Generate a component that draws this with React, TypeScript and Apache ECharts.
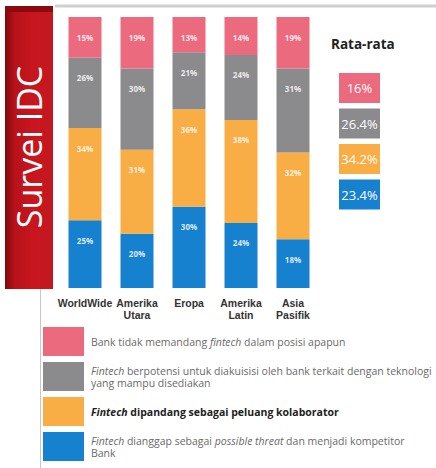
import React, { useEffect, useRef } from "react";
import * as echarts from "echarts";

const categories = ["WorldWide", "Amerika\nUtara", "Eropa", "Amerika\nLatin", "Asia\nPasifik"];
const threatValues = [25, 20, 30, 24, 18];
const collabValues = [34, 31, 36, 38, 32];
const acquireValues = [26, 30, 21, 24, 31];
const noneValues = [15, 19, 13, 14, 19];
const averages = [16, 26.4, 34.2, 23.4];
const averageLabels = ["16%", "26.4%", "34.2%", "23.4%"];

const seriesNames = [
  "Bank tidak memandang fintech dalam posisi apapun",
  "Fintech berpotensi untuk diakuisisi oleh bank terkait dengan teknologi yang mampu disediakan",
  "Fintech dipandang sebagai peluang kolaborator",
  "Fintech dianggap sebagai possible threat dan menjadi kompetitor Bank",
];
const legendRich = [
  "Bank tidak memandang {i|fintech} dalam posisi apapun",
  "{i|Fintech} berpotensi untuk diakuisisi oleh bank terkait dengan teknologi\nyang mampu disediakan",
  "{bi|Fintech} {b|dipandang sebagai peluang kolaborator}",
  "{i|Fintech} dianggap sebagai {i|possible threat} dan menjadi kompetitor\nBank",
];
const colors = ["#EC6A7E", "#8B8B8E", "#F8AD45", "#1681CF"];

export default function App() {
  const ref = useRef<HTMLDivElement>(null);
  useEffect(() => {
    if (!ref.current) return;
    const chart = echarts.init(ref.current, undefined, { renderer: "svg" });
    const font = "'Open Sans', 'Liberation Sans', sans-serif";
    const barLabel = {
      show: true,
      position: "insideTop" as const,
      distance: 16,
      formatter: "{c}%",
      color: "rgba(255,255,255,0.85)",
      fontSize: 8,
      fontWeight: "bold" as const,
      fontFamily: font,
    };
    const mk = (name: string, data: number[], color: string) => ({
      name,
      type: "bar" as const,
      stack: "all",
      data,
      barWidth: 33,
      itemStyle: { color },
      label: barLabel,
    });
    const avgGraphics: any[] = [];
    averages.forEach((v, i) => {
      avgGraphics.push({
        type: "rect",
        shape: { x: 339, y: 73 + i * 35.5, width: 41, height: 30 },
        style: { fill: colors[i] },
      });
      avgGraphics.push({
        type: "text",
        x: 359.5,
        y: 88 + i * 35.5,
        style: {
          text: averageLabels[i],
          fill: "#fff",
          fontSize: 13,
          fontFamily: font,
          align: "center",
          verticalAlign: "middle",
        },
      });
    });
    const fs = 10.5;
    const rich = {
      i: { fontStyle: "italic", fontSize: fs, color: "#6a6a6a", fontFamily: font, lineHeight: 12 },
      b: { fontWeight: "bold", fontSize: fs, color: "#222", fontFamily: font, lineHeight: 12 },
      bi: { fontWeight: "bold", fontStyle: "italic", fontSize: fs, color: "#222", fontFamily: font, lineHeight: 12 },
    };
    chart.setOption({
      animation: false,
      grid: { left: 59, width: 260, top: 17, bottom: 180 },
      xAxis: {
        type: "category",
        data: categories,
        axisLine: { show: false },
        axisTick: { show: false },
        axisLabel: {
          interval: 0,
          margin: 9,
          color: "#333",
          fontSize: 10.5,
          fontWeight: "bold",
          lineHeight: 12,
          fontFamily: "'Liberation Sans', Arial, sans-serif",
        },
      },
      yAxis: { type: "value", min: 0, max: 100, show: false },
      legend: {
        orient: "vertical",
        left: 43,
        top: 327,
        height: 141,
        padding: 0,
        itemWidth: 41,
        itemHeight: 29,
        itemGap: 6,
        icon: "rect",
        data: seriesNames,
        formatter: (name: string) => legendRich[seriesNames.indexOf(name)],
        textStyle: {
          fontSize: fs,
          color: "#6a6a6a",
          fontFamily: font,
          lineHeight: 12,
          padding: [0, 0, 0, 2],
          rich,
        },
      },
      graphic: [
        {
          type: "line",
          shape: { x1: 55, y1: 6, x2: 436, y2: 6 },
          style: { stroke: "#cfcfcf", lineWidth: 3 },
        },
        {
          type: "line",
          shape: { x1: 40.5, y1: 289, x2: 40.5, y2: 468 },
          style: { stroke: "#c8c8c8", lineWidth: 1 },
        },
        {
          type: "rect",
          shape: { x: 5, y: 6, width: 48, height: 283 },
          style: {
            fill: new echarts.graphic.LinearGradient(0, 0, 1, 0, [
              { offset: 0, color: "#7e080d" },
              { offset: 0.2, color: "#b8121a" },
              { offset: 0.6, color: "#c8161e" },
              { offset: 1, color: "#c21820" },
            ]),
          },
        },
        {
          type: "rect",
          shape: { x: 5, y: 6, width: 48, height: 6 },
          style: { fill: "#8a0a10" },
        },
        {
          type: "text",
          x: 29,
          y: 147,
          rotation: Math.PI / 2,
          style: {
            text: "Survei IDC",
            fill: "#fff",
            fontSize: 34,
            fontFamily: font,
            align: "center",
            verticalAlign: "middle",
          },
        },
        {
          type: "text",
          x: 331,
          y: 44,
          style: {
            text: "Rata-rata",
            fill: "#222",
            fontSize: 13.5,
            fontWeight: "bold",
            fontFamily: font,
            verticalAlign: "middle",
          },
        },
        ...avgGraphics,
      ],
      series: [
        mk(seriesNames[3], threatValues, colors[3]),
        mk(seriesNames[2], collabValues, colors[2]),
        mk(seriesNames[1], acquireValues, colors[1]),
        mk(seriesNames[0], noneValues, colors[0]),
      ],
    });
    return () => chart.dispose();
  }, []);
  return (
    <div
      ref={ref}
      style={{ position: "fixed", left: 0, top: 0, width: 436, height: 468, background: "#fff" }}
    />
  );
}
